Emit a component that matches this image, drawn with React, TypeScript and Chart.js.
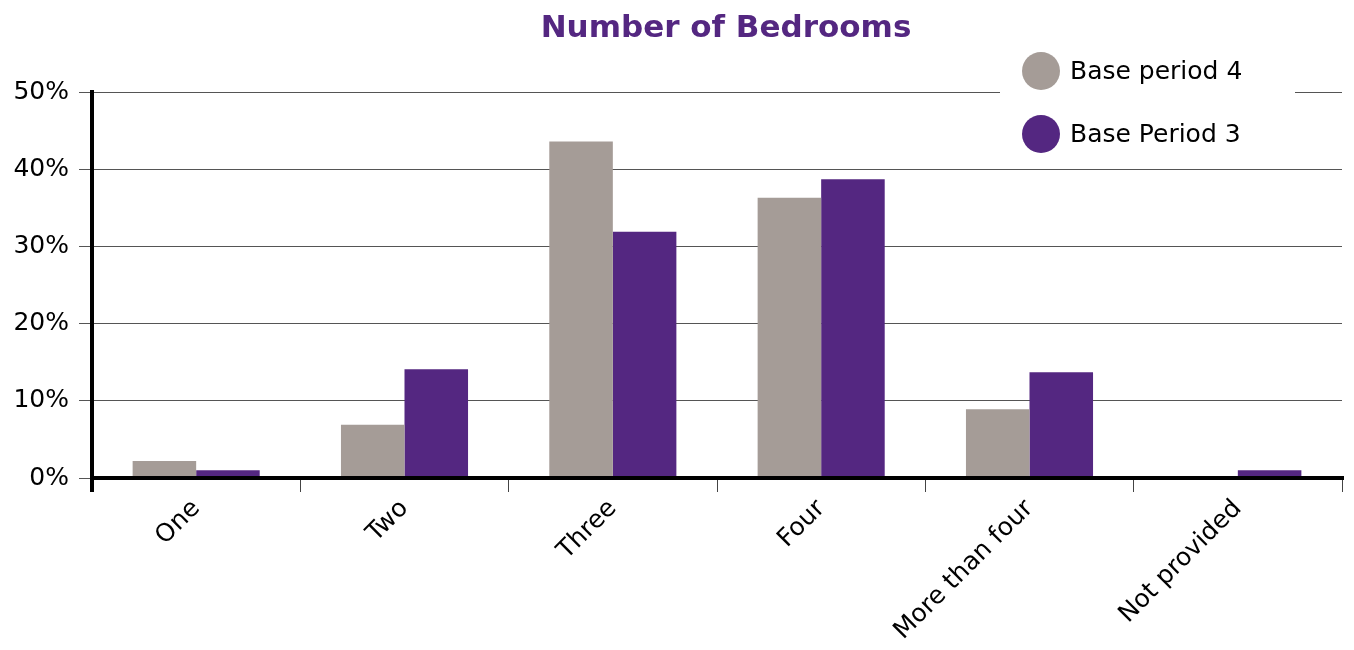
import React, { useEffect, useRef } from "react";
import { Chart, registerables } from "chart.js";

Chart.register(...registerables);

const categories = ["One", "Two", "Three", "Four", "More than four", "Not provided"];
const basePeriod4 = [2.2, 6.9, 43.6, 36.3, 8.9, 0];
const basePeriod3 = [1.0, 14.1, 31.9, 38.7, 13.7, 1.0];
const seriesNames = ["Base period 4", "Base Period 3"];
const seriesColors = ["#A59C97", "#542781"];
const titleText = "Number of Bedrooms";

const FONT = "'DejaVu Sans', sans-serif";

export default function App() {
  const ref = useRef<HTMLCanvasElement>(null);
  useEffect(() => {
    document.body.style.margin = "0";
    const canvas = ref.current!;
    const overlay = {
      id: "overlay",
      afterDraw(chart: any) {
        const ctx = chart.ctx;
        ctx.save();
        // title
        ctx.fillStyle = "#542781";
        ctx.font = `bold 31px ${FONT}`;
        ctx.textAlign = "center";
        ctx.textBaseline = "middle";
        ctx.fillText(titleText, 726, 29);
        // legend
        ctx.fillStyle = "#ffffff";
        ctx.fillRect(1000, 45, 295, 120);
        ctx.font = `25px ${FONT}`;
        ctx.textAlign = "left";
        seriesNames.forEach((n, i) => {
          const cy = 71 + i * 63;
          ctx.fillStyle = seriesColors[i];
          ctx.beginPath();
          ctx.arc(1041, cy, 19, 0, Math.PI * 2);
          ctx.fill();
          ctx.fillStyle = "#000";
          ctx.fillText(n, 1070, cy + 1);
        });
        ctx.restore();
      },
    };
    const chart = new Chart(canvas, {
      type: "bar",
      data: {
        labels: categories,
        datasets: [
          { label: seriesNames[0], data: basePeriod4, backgroundColor: seriesColors[0], categoryPercentage: 0.61, barPercentage: 1.0 },
          { label: seriesNames[1], data: basePeriod3, backgroundColor: seriesColors[1], categoryPercentage: 0.61, barPercentage: 1.0 },
        ],
      },
      options: {
        animation: false,
        responsive: false,
        maintainAspectRatio: false,
        layout: { padding: { top: 92, right: 12, left: 0, bottom: 0 } },
        plugins: { legend: { display: false }, title: { display: false }, tooltip: { enabled: false } },
        scales: {
          x: {
            afterFit: (s: any) => { s.height = 172; },
            border: { color: "#000", width: 4, z: 1 },
            grid: {
              drawOnChartArea: false,
              drawTicks: true,
              tickLength: 14,
              color: (c: any) => (c.index === 0 ? "#000" : "#444"),
              lineWidth: (c: any) => (c.index === 0 ? 4 : 1),
            },
            ticks: {
              color: "#000",
              font: { family: FONT, size: 25 },
              maxRotation: 45,
              minRotation: 45,
              padding: 2,
            },
          },
          y: {
            min: 0,
            max: 50,
            afterFit: (s: any) => { s.width = 92; },
            border: { color: "#000", width: 4, z: 1 },
            grid: { color: "#555", lineWidth: 1, tickLength: 13 },
            ticks: {
              stepSize: 10,
              color: "#000",
              padding: 10,
              font: { family: FONT, size: 25 },
              callback: (v: any) => `${v}%`,
            },
          },
        },
      },
      plugins: [overlay],
    });
    return () => chart.destroy();
  }, []);
  return (
    <div style={{ width: 1354, height: 650 }}>
      <canvas ref={ref} width={1354} height={650} style={{ width: 1354, height: 650, display: "block" }} />
    </div>
  );
}
